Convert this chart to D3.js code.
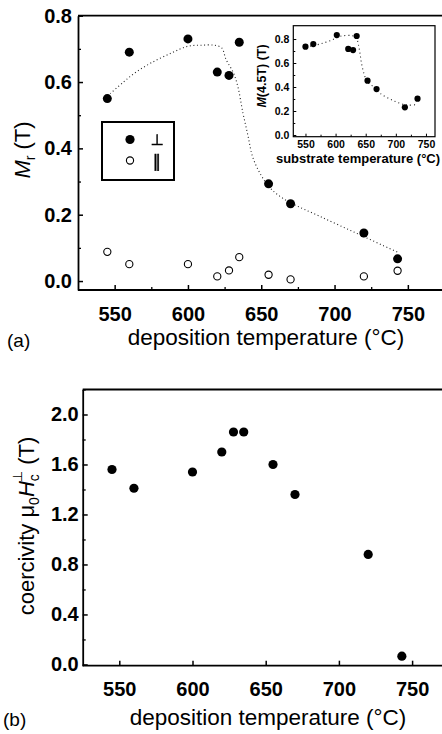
<!DOCTYPE html>
<html>
<head>
<meta charset="utf-8">
<script src="https://cdn.jsdelivr.net/npm/d3@7"></script>
<style>
  body { margin: 0; background: #fff; }
  svg { display: block; font-family: "Liberation Sans", Arial, sans-serif; }
  svg text { fill: #000; }
  .axis path, .axis line { stroke: #000; }
  .axis text { fill: #000; font-weight: bold; }
  .fit { fill: none; stroke: #222; stroke-width: 1.1; stroke-dasharray: 1,2.6; }
  .sym { opacity: 0.99; stroke: #000; stroke-width: 0.5; filter: grayscale(100%); }
</style>
</head>
<body>
<svg id="fig" width="442" height="734"></svg>
<script>
// sample deposition temperatures (°C)
var temps = [545, 560, 600, 620, 628, 635, 655, 670, 720, 743];
// remanent magnetisation (T), perpendicular and parallel
var mrPerp = [0.55, 0.69, 0.73, 0.63, 0.62, 0.72, 0.293, 0.233, 0.145, 0.067];
var mrPar = [0.088, 0.051, 0.051, 0.014, 0.032, 0.072, 0.019, 0.005, 0.014, 0.031];
// dotted guide line through Mr(perp)
var guideT = [547, 556, 564, 575, 589, 600, 609, 618, 623, 626, 631, 634, 637.5, 641, 644, 649, 655, 661, 670, 690, 717, 744];
var guideM = [0.565, 0.600, 0.628, 0.658, 0.688, 0.708, 0.711, 0.711, 0.703, 0.668, 0.628, 0.587, 0.507, 0.437, 0.376, 0.326, 0.286, 0.261, 0.236, 0.195, 0.140, 0.085];
// inset: M(4.5T) vs substrate temperature
var insetT = [550, 563, 602, 621, 629, 635, 653, 668, 715, 736];
var insetM = [0.736, 0.758, 0.833, 0.717, 0.708, 0.825, 0.453, 0.383, 0.231, 0.303];
var insetGuideT = [551, 560, 574, 591, 610, 627, 634, 638, 640.5, 643, 647, 652.5, 662.5, 674, 696, 718, 736];
var insetGuideM = [0.735, 0.742, 0.758, 0.786, 0.825, 0.828, 0.814, 0.75, 0.681, 0.597, 0.514, 0.444, 0.403, 0.347, 0.286, 0.25, 0.255];
// coercivity mu0 Hc perp (T)
var hc = [1.56, 1.41, 1.54, 1.70, 1.86, 1.86, 1.60, 1.36, 0.88, 0.066];

var xMajor = [550, 600, 650, 700, 750];
var xMinor = [575, 625, 675, 725];

var svg = d3.select("#fig");

function frame(g, x, y) {
  var r = x.range(), t = y.range();
  g.append("line").attr("x1", r[0]).attr("x2", r[1] + 2).attr("y1", t[1]).attr("y2", t[1])
      .attr("stroke", "#000").attr("stroke-width", 1.8);
  g.append("line").attr("x1", r[1]).attr("x2", r[1]).attr("y1", t[1]).attr("y2", t[0])
      .attr("stroke", "#000").attr("stroke-width", 1.8);
}

function ticksOnly(g, axis) {
  g.call(axis);
  g.select(".domain").remove();
  g.selectAll("text").remove();
}

// ---------- panel (a) ----------
var xA = d3.scaleLinear().domain([525, 775]).range([78, 444.5]);
var yA = d3.scaleLinear().domain([-0.027, 0.8]).range([290, 15.7]);
var pa = svg.append("g");

frame(pa, xA, yA);

pa.append("g").attr("class", "axis")
    .attr("transform", "translate(0," + yA.range()[0] + ")")
    .call(d3.axisBottom(xA).tickValues(xMajor).tickSizeInner(-5).tickSizeOuter(0).tickPadding(17))
    .call(function(g) {
      g.select(".domain").attr("stroke-width", 1.8).attr("d", "M" + xA.range()[0] + ",0H" + (xA.range()[1] + 2));
      g.selectAll("line").attr("stroke-width", 1.5);
      g.selectAll("text").style("font-size", "20px");
    });
pa.append("g").attr("transform", "translate(0," + yA.range()[0] + ")")
    .call(function(g) { ticksOnly(g, d3.axisBottom(xA).tickValues(xMinor).tickSize(-3)); })
    .selectAll("line").attr("stroke-width", 1.3);

pa.append("g").attr("class", "axis")
    .attr("transform", "translate(" + xA.range()[0] + ",0)")
    .call(d3.axisLeft(yA).tickValues([0, 0.2, 0.4, 0.6, 0.8]).tickFormat(d3.format(".1f"))
        .tickSizeInner(-5).tickSizeOuter(0).tickPadding(6))
    .call(function(g) {
      g.select(".domain").attr("stroke-width", 1.8);
      g.selectAll("line").attr("stroke-width", 1.5);
      g.selectAll("text").style("font-size", "20px");
    });
pa.append("g").attr("transform", "translate(" + xA.range()[0] + ",0)")
    .call(function(g) { ticksOnly(g, d3.axisLeft(yA).tickValues([0.1, 0.3, 0.5, 0.7]).tickSize(-3)); })
    .selectAll("line").attr("stroke-width", 1.3);

// guide line
pa.append("path").attr("class", "fit")
    .attr("d", d3.line().curve(d3.curveCatmullRom)
        .x(function(d, i) { return xA(guideT[i]); })
        .y(function(d) { return yA(d); })(guideM));

pa.selectAll("circle.par").data(mrPar).enter().append("circle")
    .attr("class", "par")
    .attr("cx", function(d, i) { return xA(temps[i]); })
    .attr("cy", function(d) { return yA(d); })
    .attr("r", 3.6).attr("fill", "#fff").attr("stroke", "#000").attr("stroke-width", 1.1);

pa.selectAll("circle.perp").data(mrPerp).enter().append("circle")
    .attr("class", "perp")
    .attr("cx", function(d, i) { return xA(temps[i]); })
    .attr("cy", function(d) { return yA(d); })
    .attr("r", 4.5).attr("fill", "#000");

// legend
var leg = pa.append("g").attr("transform", "translate(102,122)");
leg.append("rect").attr("width", 72).attr("height", 58)
    .attr("fill", "#fff").attr("stroke", "#000").attr("stroke-width", 2);
leg.append("circle").attr("cx", 28).attr("cy", 17.5).attr("r", 4.6).attr("fill", "#000");
leg.append("circle").attr("cx", 28).attr("cy", 38.5).attr("r", 3.6)
    .attr("fill", "#fff").attr("stroke", "#000").attr("stroke-width", 1.1);
leg.append("text").attr("class", "sym").attr("x", 55).attr("y", 23).attr("text-anchor", "middle")
    .style("font-family", "'DejaVu Sans'").style("font-size", "15px")
    .text("\u22A5");
leg.append("text").attr("class", "sym").attr("x", 55).attr("y", 45).attr("text-anchor", "middle")
    .style("font-family", "'DejaVu Sans'").style("font-size", "17px")
    .text("\u2225");

// y title
pa.append("text")
    .attr("transform", "translate(30,150) rotate(-90)")
    .attr("text-anchor", "middle")
    .style("font-size", "22px")
    .call(function(t) {
      t.append("tspan").style("font-style", "italic").text("M");
      t.append("tspan").attr("dy", 5).style("font-size", "14px").text("r");
      t.append("tspan").attr("dy", -5).text(" (T)");
    });
pa.append("text").attr("x", 266).attr("y", 345).attr("text-anchor", "middle")
    .style("font-size", "22.5px").text("deposition temperature (°C)");
pa.append("text").attr("x", 7).attr("y", 347).style("font-size", "19px").text("(a)");

// ---------- inset ----------
var xI = d3.scaleLinear().domain([529.8, 765]).range([293.3, 435]);
var yI = d3.scaleLinear().domain([-0.0142, 0.911]).range([136.7, 25.7]);
var pi = svg.append("g");

pi.append("rect").attr("x", 293.3).attr("y", 25.7).attr("width", 435 - 293.3).attr("height", 136.7 - 25.7)
    .attr("fill", "#fff").attr("stroke", "#000").attr("stroke-width", 1.2);

pi.append("g").attr("class", "axis")
    .attr("transform", "translate(0," + yI.range()[0] + ")")
    .call(d3.axisBottom(xI).tickValues(xMajor).tickSizeInner(-3).tickSizeOuter(0).tickPadding(4))
    .call(function(g) {
      g.select(".domain").remove();
      g.selectAll("line").attr("stroke-width", 1);
      g.selectAll("text").style("font-size", "10.5px");
    });
pi.append("g").attr("transform", "translate(0," + yI.range()[0] + ")")
    .call(function(g) { ticksOnly(g, d3.axisBottom(xI).tickValues(xMinor).tickSize(-2)); });

pi.append("g").attr("class", "axis")
    .attr("transform", "translate(" + xI.range()[0] + ",0)")
    .call(d3.axisLeft(yI).tickValues([0, 0.2, 0.4, 0.6, 0.8]).tickFormat(d3.format(".1f"))
        .tickSizeInner(-3).tickSizeOuter(0).tickPadding(4))
    .call(function(g) {
      g.select(".domain").remove();
      g.selectAll("line").attr("stroke-width", 1);
      g.selectAll("text").style("font-size", "10.5px");
    });
pi.append("g").attr("transform", "translate(" + xI.range()[0] + ",0)")
    .call(function(g) { ticksOnly(g, d3.axisLeft(yI).tickValues([0.1, 0.3, 0.5, 0.7]).tickSize(-2)); });

pi.append("path").attr("class", "fit").style("stroke-dasharray", "1,3")
    .attr("d", d3.line().curve(d3.curveCatmullRom)
        .x(function(d, i) { return xI(insetGuideT[i]); })
        .y(function(d) { return yI(d); })(insetGuideM));

pi.selectAll("circle").data(insetM).enter().append("circle")
    .attr("cx", function(d, i) { return xI(insetT[i]); })
    .attr("cy", function(d) { return yI(d); })
    .attr("r", 3.1).attr("fill", "#000");

pi.append("text")
    .attr("transform", "translate(266,76) rotate(-90)")
    .attr("text-anchor", "middle")
    .style("font-size", "12.5px").style("font-weight", "bold")
    .call(function(t) {
      t.append("tspan").style("font-style", "italic").text("M");
      t.append("tspan").text("(4.5T) (T)");
    });
pi.append("text").attr("x", 358).attr("y", 163).attr("text-anchor", "middle")
    .style("font-size", "13px").style("font-weight", "bold").text("substrate temperature (°C)");

// ---------- panel (b) ----------
var xB = d3.scaleLinear().domain([525, 775]).range([82.7, 448.7]);
var yB = d3.scaleLinear().domain([-0.01, 2.2]).range([665.7, 389.5]);
var pb = svg.append("g");

frame(pb, xB, yB);

pb.append("g").attr("class", "axis")
    .attr("transform", "translate(0," + yB.range()[0] + ")")
    .call(d3.axisBottom(xB).tickValues(xMajor).tickSizeInner(-5).tickSizeOuter(0).tickPadding(16))
    .call(function(g) {
      g.select(".domain").attr("stroke-width", 1.8).attr("d", "M" + xB.range()[0] + ",0H" + (xB.range()[1] + 2));
      g.selectAll("line").attr("stroke-width", 1.5);
      g.selectAll("text").style("font-size", "20px");
    });

pb.append("g").attr("class", "axis")
    .attr("transform", "translate(" + xB.range()[0] + ",0)")
    .call(d3.axisLeft(yB).tickValues([0, 0.4, 0.8, 1.2, 1.6, 2.0]).tickFormat(d3.format(".1f"))
        .tickSizeInner(-5).tickSizeOuter(0).tickPadding(4))
    .call(function(g) {
      g.select(".domain").attr("stroke-width", 1.8);
      g.selectAll("line").attr("stroke-width", 1.5);
      g.selectAll("text").style("font-size", "20px");
    });
pb.append("g").attr("transform", "translate(" + xB.range()[0] + ",0)")
    .call(function(g) { ticksOnly(g, d3.axisLeft(yB).tickValues([0.2, 0.6, 1.0, 1.4, 1.8, 2.2]).tickSize(-3)); })
    .selectAll("line").attr("stroke-width", 1.3);

pb.selectAll("circle").data(hc).enter().append("circle")
    .attr("cx", function(d, i) { return xB(temps[i]); })
    .attr("cy", function(d) { return yB(d); })
    .attr("r", 4.6).attr("fill", "#000");

pb.append("text")
    .attr("transform", "translate(34,526) rotate(-90)")
    .attr("text-anchor", "middle")
    .style("font-size", "22px")
    .call(function(t) {
      t.append("tspan").text("coercivity μ");
      t.append("tspan").attr("dy", 5).style("font-size", "14px").text("0");
      t.append("tspan").attr("dy", -5).style("font-style", "italic").text("H");
      t.append("tspan").attr("dy", 5).style("font-size", "14px").text("c");
      t.append("tspan").attr("dy", -17).attr("dx", -8).style("font-size", "13px")
          .style("font-family", "'DejaVu Sans'").text("\u22A5");
      t.append("tspan").attr("dy", 12).text(" (T)");
    });
pb.append("text").attr("x", 268).attr("y", 725).attr("text-anchor", "middle")
    .style("font-size", "22.5px").text("deposition temperature (°C)");
pb.append("text").attr("x", 3).attr("y", 726).style("font-size", "19px").text("(b)");
</script>
</body>
</html>
